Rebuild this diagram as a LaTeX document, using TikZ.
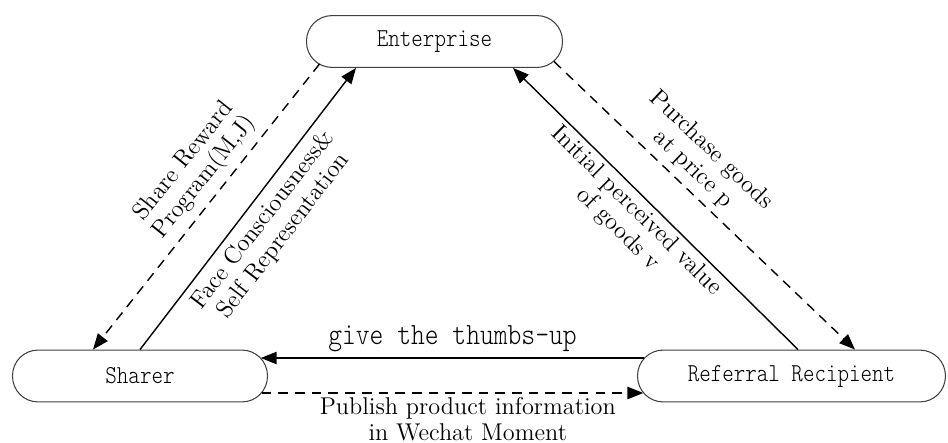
\documentclass[tikz,border=0pt]{standalone}
\usepackage{fontspec}
\newfontfamily\partyfont{lmmonolt10-regular}[Extension=.otf,FakeStretch=0.85]
\usetikzlibrary{arrows.meta,calc}
\begin{document}
\begin{tikzpicture}[x=.02cm,y=-.02cm,
    party/.style={draw=black!75,line width=.6pt,rounded corners=14.5pt,
      minimum height=29.5pt,inner sep=0pt,font=\partyfont\fontsize{14.7}{17}\selectfont},
    flow/.style={line width=.8pt,-{Triangle[length=9pt,width=7pt]}},
    offer/.style={flow,dash pattern=on 5.5pt off 4pt},
    lbl/.style={sloped,align=center,inner sep=4pt,font=\fontsize{13.8}{14.8}\selectfont}]
      \useasboundingbox (0,0) rectangle (948,443);
      % the three parties
      \node [party,minimum width=145.7pt] (ent) at (434.5,41.5) {Enterprise};
      \node [party,minimum width=145.1pt] (shr) at (140,376) {Sharer};
      \node [party,minimum width=175.2pt] (rcp) at (791.5,376) {Referral Recipient};
      \coordinate (ent-sw) at ($(ent.center)+(-115,22.5)$);
      \coordinate (ent-se) at ($(ent.center)+(119.5,20)$);
      % enterprise and sharer
      \draw [offer] (ent-sw) -- ($(shr.north)+(-47,0)$)
        node [lbl,pos=.44,above] {Share Reward\\Program(M,J)};
      \draw [flow] (shr.north) -- ($(ent.south)+(-78.5,0)$)
        node [lbl,pos=.5,below] {Face Consciousness\&\\Self Representation};
      % enterprise and recipient
      \draw [flow] ($(rcp.north)+(6.5,0)$) -- ($(ent.south)+(78.5,0)$)
        node [lbl,pos=.53,below,inner sep=2pt] {Initial perceived value\\of goods v};
      \draw [offer] (ent-se) -- ($(rcp.north)+(63.5,0)$)
        node [lbl,pos=.42,above] {Purchase goods\\at price p};
      % sharer and recipient
      \draw [flow] ($(rcp.center)+(-147.3,-18)$) -- ($(shr.center)+(120.8,-18)$)
        node [pos=.5,above,inner sep=3pt,font=\partyfont\fontsize{17.6}{20}\selectfont] {give the thumbs-up};
      \draw [offer] ($(shr.center)+(121.7,17)$) -- ($(rcp.center)+(-148.2,17)$)
        node [lbl,pos=.54,below,inner sep=2pt] {Publish product information\\in Wechat Moment};
    \end{tikzpicture}
\end{document}
